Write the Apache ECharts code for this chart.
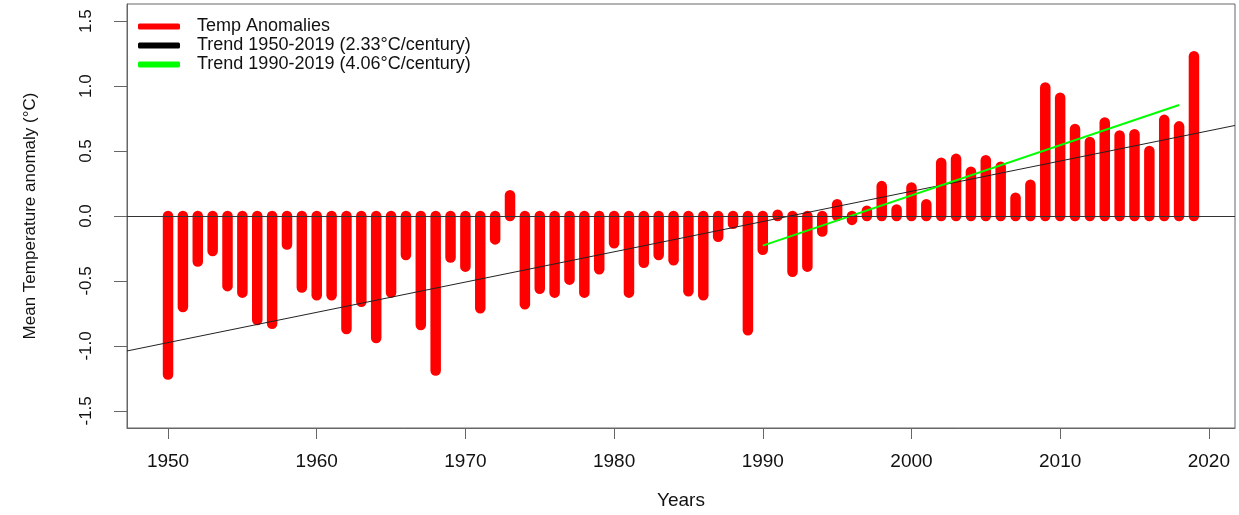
<!DOCTYPE html>
<html>
<head>
<meta charset="utf-8">
<script src="https://cdn.jsdelivr.net/npm/echarts@6/dist/echarts.min.js"></script>
<style>
html,body{margin:0;padding:0;background:#fff;}
#chart{width:1239px;height:515px;}
</style>
</head>
<body>
<div id="chart"></div>
<script>
const years = [1950,1951,1952,1953,1954,1955,1956,1957,1958,1959,
  1960,1961,1962,1963,1964,1965,1966,1967,1968,1969,
  1970,1971,1972,1973,1974,1975,1976,1977,1978,1979,
  1980,1981,1982,1983,1984,1985,1986,1987,1988,1989,
  1990,1991,1992,1993,1994,1995,1996,1997,1998,1999,
  2000,2001,2002,2003,2004,2005,2006,2007,2008,2009,
  2010,2011,2012,2013,2014,2015,2016,2017,2018,2019];
const anomalies = [-1.22,-0.70,-0.35,-0.27,-0.54,-0.59,-0.80,-0.83,-0.22,-0.55,
  -0.61,-0.61,-0.87,-0.66,-0.94,-0.59,-0.30,-0.84,-1.19,-0.32,
  -0.39,-0.71,-0.18,0.16,-0.68,-0.56,-0.59,-0.49,-0.59,-0.41,
  -0.21,-0.59,-0.36,-0.30,-0.34,-0.58,-0.61,-0.16,-0.06,-0.88,
  -0.26,0.01,-0.43,-0.39,-0.12,0.09,-0.03,0.04,0.23,0.05,
  0.22,0.09,0.41,0.44,0.34,0.43,0.38,0.14,0.24,0.99,
  0.91,0.67,0.57,0.72,0.62,0.63,0.50,0.74,0.69,1.23];
// trend line end points
const trendAllX = [1947.24, 2021.76];
const trendAllY = [-1.039, 0.697];
const trendRecentX = [1990, 2018];
const trendRecentY = [-0.228, 0.854];
const xTicks = [1950,1960,1970,1980,1990,2000,2010,2020];
const yTicks = [-1.5,-1.0,-0.5,0.0,0.5,1.0,1.5];

const names = ['Temp Anomalies','Trend 1950-2019 (2.33°C/century)','Trend 1990-2019 (4.06°C/century)'];
const barData = years.map((y,i)=>[y, anomalies[i]]);
const t1 = trendAllX.map((x,i)=>[x, trendAllY[i]]);
const t2 = trendRecentX.map((x,i)=>[x, trendRecentY[i]]);

const FONT = '"Liberation Sans", Arial, Helvetica, sans-serif';
const chart = echarts.init(document.getElementById('chart'), null, {renderer:'canvas'});
chart.setOption({
  animation:false,
  backgroundColor:'#ffffff',
  textStyle:{fontFamily:FONT},
  grid:{left:127, right:4, top:4, bottom:87, show:true, borderColor:'#666', borderWidth:1, backgroundColor:'transparent'},
  legend:{
    orient:'vertical', left:138, top:17, itemGap:0, padding:0,
    itemWidth:42, itemHeight:6, icon:'roundRect',
    formatter: n => '{s|}' + n,
    textStyle:{fontFamily:FONT, fontSize:18, color:'#111', lineHeight:19, rich:{s:{width:12}}},
    data:[{name:names[0], itemStyle:{color:'#ff0000'}},
          {name:names[1], itemStyle:{color:'#000000'}},
          {name:names[2], itemStyle:{color:'#00ff00'}}]
  },
  xAxis:{
    type:'value', min:1947.24, max:2021.76,
    name:'Years', nameLocation:'middle', nameGap:63,
    nameTextStyle:{fontFamily:FONT, fontSize:19, color:'#111'},
    axisLine:{show:true, onZero:false, lineStyle:{color:'#666', width:1}},
    axisTick:{show:true, length:11, lineStyle:{color:'#666'}, customValues:xTicks},
    axisLabel:{show:true, fontFamily:FONT, fontSize:19, color:'#111', margin:24, customValues:xTicks, formatter:v=>String(v)},
    splitLine:{show:false}
  },
  yAxis:{
    type:'value', min:-1.632, max:1.632,
    name:'Mean Temperature anomaly (°C)', nameLocation:'middle', nameGap:88, nameRotate:90,
    nameTextStyle:{fontFamily:FONT, fontSize:17, color:'#111'},
    axisLine:{show:true, onZero:false, lineStyle:{color:'#666', width:1}},
    axisTick:{show:true, length:13, lineStyle:{color:'#666'}, customValues:yTicks},
    axisLabel:{show:true, rotate:90, fontFamily:FONT, fontSize:17, color:'#111', margin:32, customValues:yTicks, formatter:v=>v.toFixed(1)},
    splitLine:{show:false}
  },
  series:[
    {
      name:names[0], type:'custom', data:barData, itemStyle:{color:'#ff0000'}, z:2,
      encode:{x:0, y:1},
      renderItem:(params, api)=>{
        const x = api.value(0), v = api.value(1);
        const p0 = api.coord([x, 0]);
        const p1 = api.coord([x, v]);
        return {type:'line', shape:{x1:p0[0], y1:p0[1], x2:p1[0], y2:p1[1]},
                style:{stroke:'#ff0000', lineWidth:10.5, lineCap:'round'}};
      },
      markLine:{silent:true, symbol:'none', label:{show:false},
        lineStyle:{color:'#333', width:1, type:'solid'}, data:[{yAxis:0}]}
    },
    {name:names[1], type:'line', data:t1, symbol:'none', z:3,
      itemStyle:{color:'#000000'}, lineStyle:{color:'#222', width:1}},
    {name:names[2], type:'line', data:t2, symbol:'none', z:4,
      itemStyle:{color:'#00ff00'}, lineStyle:{color:'#00ff00', width:2}}
  ]
});
</script>
</body>
</html>
